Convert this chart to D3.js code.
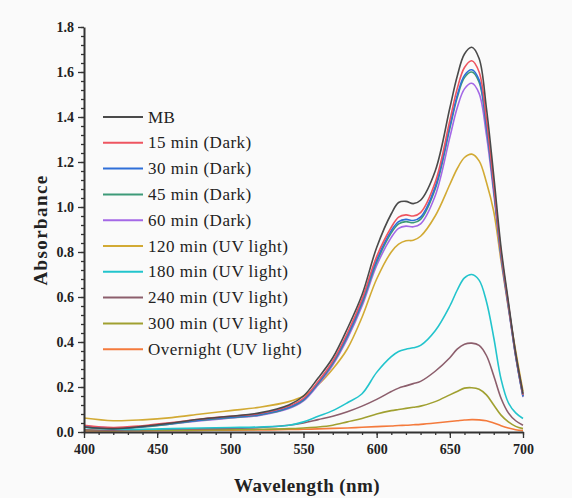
<!DOCTYPE html>
<html><head><meta charset="utf-8">
<script src="https://cdn.jsdelivr.net/npm/d3@7/dist/d3.min.js"></script>
<style>body{margin:0;background:#fafafa;}svg{display:block;}</style>
</head><body>
<svg id="c" width="572" height="498"></svg>
<script>
const wavelengths = [400,420,440,460,480,500,520,540,550,560,570,580,590,600,610,615,620,625,630,640,650,655,660,665,670,675,680,685,690,695,700];
const seriesNames = ["MB","15 min (Dark)","30 min (Dark)","45 min (Dark)","60 min (Dark)","120 min (UV light)","180 min (UV light)","240 min (UV light)","300 min (UV light)","Overnight (UV light)"];
const seriesColors = ["#4a4a4a","#ee5560","#2f6fd8","#3d9a78","#a468e6","#d2aa34","#22c4cc","#8c5e6c","#a0a030","#f47a3c"];
const mb      = [0.022,0.015,0.025,0.040,0.058,0.070,0.085,0.120,0.160,0.240,0.330,0.460,0.610,0.820,0.970,1.020,1.025,1.015,1.030,1.160,1.440,1.580,1.680,1.710,1.660,1.440,1.140,0.820,0.580,0.350,0.170];
const dark15  = [0.030,0.020,0.028,0.042,0.058,0.070,0.082,0.115,0.150,0.225,0.315,0.440,0.590,0.780,0.910,0.955,0.965,0.960,0.975,1.110,1.385,1.525,1.620,1.650,1.600,1.390,1.100,0.800,0.570,0.345,0.165];
const dark30  = [0.024,0.016,0.024,0.038,0.054,0.066,0.078,0.110,0.145,0.220,0.310,0.430,0.580,0.765,0.895,0.935,0.945,0.940,0.955,1.090,1.360,1.495,1.585,1.610,1.565,1.365,1.085,0.790,0.565,0.340,0.160];
const dark45  = [0.022,0.015,0.022,0.036,0.052,0.064,0.076,0.108,0.142,0.216,0.305,0.425,0.572,0.755,0.885,0.925,0.935,0.930,0.945,1.080,1.350,1.485,1.575,1.600,1.555,1.355,1.080,0.785,0.562,0.338,0.158];
const dark60  = [0.026,0.018,0.024,0.036,0.050,0.062,0.074,0.104,0.138,0.210,0.298,0.415,0.560,0.740,0.865,0.905,0.915,0.912,0.925,1.050,1.310,1.440,1.525,1.550,1.505,1.320,1.060,0.775,0.555,0.335,0.155];
const uv120   = [0.062,0.050,0.054,0.064,0.080,0.095,0.110,0.135,0.160,0.210,0.280,0.370,0.510,0.680,0.800,0.835,0.850,0.852,0.870,0.960,1.100,1.170,1.220,1.235,1.205,1.110,0.980,0.760,0.550,0.360,0.180];
const uv180   = [0.020,0.012,0.012,0.015,0.018,0.020,0.022,0.030,0.045,0.070,0.095,0.130,0.170,0.265,0.335,0.358,0.368,0.374,0.385,0.450,0.560,0.630,0.685,0.700,0.675,0.580,0.420,0.235,0.130,0.085,0.060];
const uv240   = [0.010,0.008,0.010,0.012,0.014,0.016,0.020,0.030,0.040,0.055,0.070,0.090,0.115,0.145,0.180,0.195,0.205,0.215,0.225,0.270,0.330,0.368,0.390,0.395,0.385,0.340,0.250,0.150,0.085,0.050,0.030];
const uv300   = [0.008,0.006,0.007,0.008,0.009,0.010,0.012,0.015,0.018,0.022,0.030,0.045,0.060,0.080,0.095,0.100,0.105,0.110,0.115,0.135,0.165,0.180,0.195,0.197,0.190,0.165,0.120,0.075,0.045,0.025,0.015];
const uvNight = [0.005,0.005,0.006,0.006,0.007,0.008,0.009,0.011,0.012,0.014,0.016,0.018,0.021,0.024,0.027,0.029,0.030,0.032,0.034,0.040,0.047,0.050,0.053,0.055,0.054,0.050,0.040,0.028,0.018,0.010,0.006];
const seriesValues = [mb,dark15,dark30,dark45,dark60,uv120,uv180,uv240,uv300,uvNight];
const xTicks = [400,450,500,550,600,650,700];
const yTicks = [0.0,0.2,0.4,0.6,0.8,1.0,1.2,1.4,1.6,1.8];

const svg = d3.select("#c");
const x = d3.scaleLinear().domain([400,700]).range([84,523]);
const y = d3.scaleLinear().domain([0,1.8]).range([432,27]);
const serif = "'Liberation Serif','Times New Roman',serif";

// series
const line = d3.line().x(d=>x(d[0])).y(d=>y(d[1])).curve(d3.curveCatmullRom.alpha(0.5));
const drawOrder = [9,8,7,6,5,4,3,2,1,0];
drawOrder.forEach(i=>{
  svg.append("path").datum(wavelengths.map((w,k)=>[w,seriesValues[i][k]]))
    .attr("d",line).attr("fill","none").attr("stroke",seriesColors[i]).attr("stroke-width",1.6);
});

// axes
const xMinor = d3.range(400,701,10);
const yMinor = d3.range(0,1.801,0.04);
const gx = svg.append("g").attr("transform","translate(0,432)");
gx.call(d3.axisBottom(x).tickValues(xMinor).tickSize(3).tickFormat(""));
gx.call(g=>g.selectAll(".domain").remove());
const gx2 = svg.append("g").attr("transform","translate(0,432)");
gx2.call(d3.axisBottom(x).tickValues(xTicks).tickSize(6).tickSizeOuter(0).tickPadding(6).tickFormat(d3.format("d")));
const gy = svg.append("g").attr("transform","translate(84,0)");
gy.call(d3.axisLeft(y).tickValues(yMinor).tickSize(3).tickFormat(""));
gy.call(g=>g.selectAll(".domain").remove());
const gy2 = svg.append("g").attr("transform","translate(84,0)");
gy2.call(d3.axisLeft(y).tickValues(yTicks).tickSize(6).tickSizeOuter(0).tickPadding(4).tickFormat(d3.format(".1f")));
svg.selectAll(".domain").attr("stroke","#333").attr("stroke-width",2);
svg.selectAll(".tick line").attr("stroke","#333").attr("stroke-width",1.3);
svg.selectAll(".tick text").attr("font-family",serif).attr("font-weight","bold").attr("font-size",14).attr("fill","#222");

// titles
svg.append("text").attr("x",307).attr("y",492).attr("text-anchor","middle")
  .attr("font-family",serif).attr("font-weight","bold").attr("font-size",19).attr("letter-spacing",0.4).attr("fill","#222").text("Wavelength (nm)");
svg.append("text").attr("transform","translate(47,230) rotate(-90)").attr("text-anchor","middle")
  .attr("font-family",serif).attr("font-weight","bold").attr("font-size",19).attr("letter-spacing",1.4).attr("fill","#222").text("Absorbance");

// legend
const lg = svg.append("g");
seriesNames.forEach((n,i)=>{
  const yy = 117 + i*25.8;
  lg.append("line").attr("x1",103).attr("x2",143).attr("y1",yy).attr("y2",yy).attr("stroke",seriesColors[i]).attr("stroke-width",2);
  lg.append("text").attr("x",148).attr("y",yy+5.5).attr("font-family",serif).attr("font-size",17).attr("letter-spacing",0.5).attr("fill","#222").text(n);
});
</script>
</body></html>
